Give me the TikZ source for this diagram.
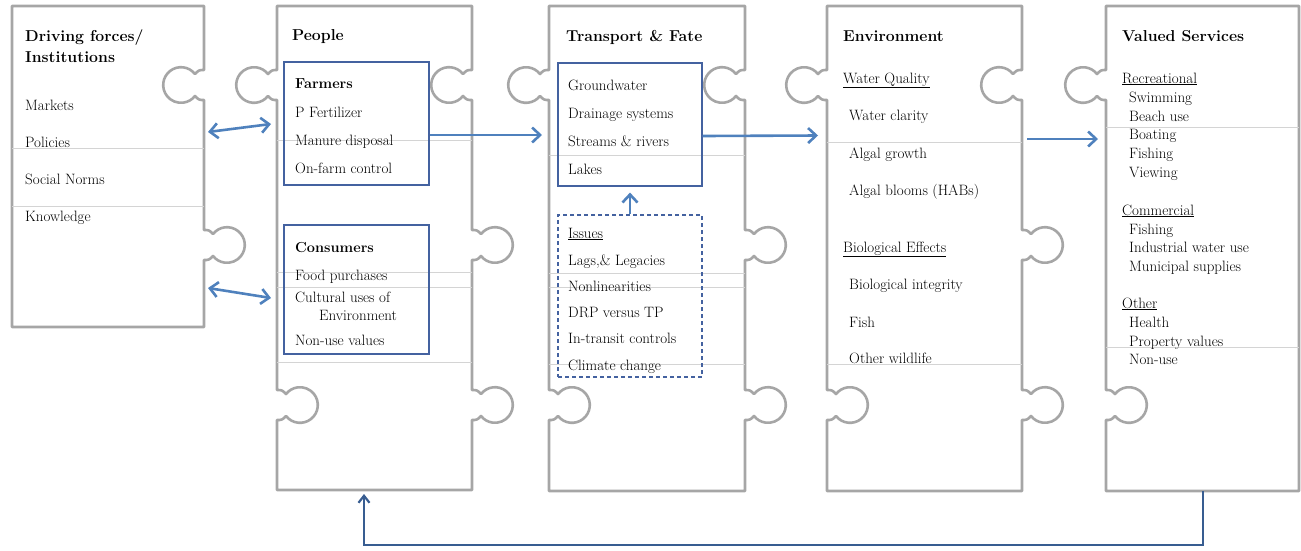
\documentclass[tikz,border=0pt]{standalone}
\usepackage{fontspec}
\usetikzlibrary{arrows.meta}
\definecolor{pgray}{RGB}{166,166,166}
\definecolor{flowblue}{RGB}{79,129,189}
\definecolor{loopblue}{RGB}{56,93,145}
\definecolor{boxblue}{RGB}{68,98,160}
\tikzset{
  % one puzzle knob on a vertical edge: x of edge, centre y, side (+1 right, -1 left), run (+1 down, -1 up)
  pknob/.style n args={4}{insert path={
    -- (#1,{#2-(#4)*15})
    .. controls ({#1+(#3)*5},{#2-(#4)*15}) .. ({#1+(#3)*9},{#2-(#4)*11})
    arc[start angle={atan2(-(#4)*11,-(#3)*14)}, delta angle={283.7*(#3)*(#4)}, radius=17.8]
    .. controls ({#1+(#3)*5},{#2+(#4)*15}) .. (#1,{#2+(#4)*15})}},
  piece/.style={draw=pgray, line width=2.6pt, fill=white, line join=round},
  rule/.style={draw=black!17, line width=0.7pt},
  ibox/.style={draw=boxblue, line width=1.2pt, inner sep=0pt},
  txt/.style={anchor=base west, inner sep=0pt, font=\fontsize{15}{18}\selectfont},
  ttl/.style={txt, font=\fontsize{15.8}{19}\selectfont\bfseries},
  hd/.style={txt, font=\fontsize{14.5}{18}\selectfont\bfseries},
  flow/.style={draw=flowblue, line width=2.6pt, -{Straight Barb[length=8pt,width=15pt]}},
  twoway/.style={draw=flowblue, line width=2.6pt, {Straight Barb[length=8pt,width=15pt]}-{Straight Barb[length=8pt,width=15pt]}},
  back/.style={draw=loopblue, line width=2.2pt, -{Straight Barb[length=7pt,width=11pt]}}
}
\begin{document}
\begin{tikzpicture}[x=1pt, y=-1pt]
\useasboundingbox (0,0) rectangle (1301,550);

% puzzle pieces
\draw[piece] (12,6) -- (204,6) [pknob={204}{85}{-1}{1}] [pknob={204}{245}{1}{1}]
  -- (204,327) -- (12,327) -- cycle;
\draw[piece] (277,6) -- (472,6) [pknob={472}{85}{-1}{1}] [pknob={472}{245}{1}{1}] [pknob={472}{405}{1}{1}]
  -- (472,490) -- (277,490) [pknob={277}{405}{1}{-1}] [pknob={277}{85}{-1}{-1}] -- cycle;
\draw[piece] (549,6) -- (745,6) [pknob={745}{85}{-1}{1}] [pknob={745}{245}{1}{1}] [pknob={745}{405}{1}{1}]
  -- (745,491) -- (549,491) [pknob={549}{405}{1}{-1}] [pknob={549}{85}{-1}{-1}] -- cycle;
\draw[piece] (827,6) -- (1022,6) [pknob={1022}{85}{-1}{1}] [pknob={1022}{245}{1}{1}] [pknob={1022}{405}{1}{1}]
  -- (1022,491) -- (827,491) [pknob={827}{405}{1}{-1}] [pknob={827}{85}{-1}{-1}] -- cycle;
\draw[piece] (1106,6) -- (1299,6) -- (1299,491) -- (1106,491)
  [pknob={1106}{405}{1}{-1}] [pknob={1106}{85}{-1}{-1}] -- cycle;

% faint table lines
\draw[rule] (12,148) -- (204,148);
\draw[rule] (12,206) -- (204,206);
\draw[rule] (277,140) -- (472,140);
\draw[rule] (277,272) -- (472,272);
\draw[rule] (277,287) -- (472,287);
\draw[rule] (277,362) -- (472,362);
\draw[rule] (549,155) -- (745,155);
\draw[rule] (549,273) -- (745,273);
\draw[rule] (549,287) -- (745,287);
\draw[rule] (549,364) -- (745,364);
\draw[rule] (827,142) -- (1022,142);
\draw[rule] (827,364) -- (1022,364);
\draw[rule] (1106,127) -- (1299,127);
\draw[rule] (1106,347) -- (1299,347);

% inner boxes
\node[ibox, minimum width=145pt, minimum height=123pt] (farmers) at (356.5,123.5) {};
\node[ibox, minimum width=145pt, minimum height=129pt] (consumers) at (356.5,289.5) {};
\node[ibox, minimum width=144pt, minimum height=123pt] (tfbox) at (630,124.5) {};
\node[ibox, dashed, dash pattern=on 4pt off 3pt, minimum width=144pt, minimum height=162pt] (issues) at (630,296) {};

% Driving forces
\node[ttl] (df0) at (25,41.5) {Driving forces/};
\node[ttl] (df1) at (25,62) {Institutions};
\node[txt] (df2) at (25,110) {Markets};
\node[txt] (df3) at (25,147) {Policies};
\node[txt] (df4) at (25,184) {Social Norms};
\node[txt] (df5) at (25,221) {Knowledge};

% People
\node[ttl] (pe0) at (292,40) {People};
\node[hd] (fa0) at (295,88) {Farmers};
\node[txt] (fa1) at (295,117) {P Fertilizer};
\node[txt] (fa2) at (295,145) {Manure disposal};
\node[txt] (fa3) at (295,173) {On-farm control};
\node[hd] (co0) at (295,252) {Consumers};
\node[txt] (co1) at (295,280) {Food purchases};
\node[txt] (co2) at (295,302) {Cultural uses of};
\node[txt] (co3) at (319,320) {Environment};
\node[txt] (co4) at (295,345) {Non-use values};

% Transport & Fate
\node[ttl] (tf0) at (566,41) {Transport \& Fate};
\node[txt] (tf1) at (568,90) {Groundwater};
\node[txt] (tf2) at (568,118) {Drainage systems};
\node[txt] (tf3) at (568,146) {Streams \& rivers};
\node[txt] (tf4) at (568,174) {Lakes};
\node[txt] (is0) at (568,238) {\underline{Issues}};
\node[txt] (is1) at (568,265) {Lags,\& Legacies};
\node[txt] (is2) at (568,291) {Nonlinearities};
\node[txt] (is3) at (568,317) {DRP versus TP};
\node[txt] (is4) at (568,343) {In-transit controls};
\node[txt] (is5) at (568,370) {Climate change};

% Environment
\node[ttl] (en0) at (843,41) {Environment};
\node[txt] (en1) at (843,83) {\underline{Water Quality}};
\node[txt] (en2) at (849,120) {Water clarity};
\node[txt] (en3) at (849,158) {Algal growth};
\node[txt] (en4) at (849,195) {Algal blooms (HABs)};
\node[txt] (en5) at (843,252) {\underline{Biological Effects}};
\node[txt] (en6) at (849,289) {Biological integrity};
\node[txt] (en7) at (849,327) {Fish};
\node[txt] (en8) at (849,363) {Other wildlife};

% Valued Services
\node[ttl] (vs0) at (1122,41) {Valued Services};
\node[txt] (vs1) at (1122,83) {\underline{Recreational}};
\node[txt] (vs2) at (1129,102) {Swimming};
\node[txt] (vs3) at (1129,121) {Beach use};
\node[txt] (vs4) at (1129,139) {Boating};
\node[txt] (vs5) at (1129,158) {Fishing};
\node[txt] (vs6) at (1129,177) {Viewing};
\node[txt] (vs7) at (1122,215) {\underline{Commercial}};
\node[txt] (vs8) at (1129,234) {Fishing};
\node[txt] (vs9) at (1129,252) {Industrial water use};
\node[txt] (vs10) at (1129,271) {Municipal supplies};
\node[txt] (vs11) at (1122,308) {\underline{Other}};
\node[txt] (vs12) at (1129,327) {Health};
\node[txt] (vs13) at (1129,346) {Property values};
\node[txt] (vs14) at (1129,364) {Non-use};

% arrow ends
\coordinate (df top) at (208,132);
\coordinate (pe top) at (271,124);
\coordinate (df low) at (208,288);
\coordinate (pe low) at (271,298);
\coordinate (tf in) at (542,135);
\coordinate (en in) at (818,135.5);
\coordinate (en out) at (1027,139);
\coordinate (vs in) at (1098,139);
\coordinate (vs bottom) at (1203,491);
\coordinate (pe bottom) at (364,494);

\draw[twoway] (df top) -- (pe top);
\draw[twoway] (df low) -- (pe low);
\draw[flow] ([yshift=-11.5pt]farmers.east) -- (tf in);
\draw[flow] ([yshift=-11.5pt]tfbox.east) -- (en in);
\draw[flow] (en out) -- (vs in);
\draw[flow] (issues.north) -- ([yshift=-6pt]tfbox.south);
\draw[back] (vs bottom) -- ++(0,54) -| (pe bottom);
\end{tikzpicture}
\end{document}
